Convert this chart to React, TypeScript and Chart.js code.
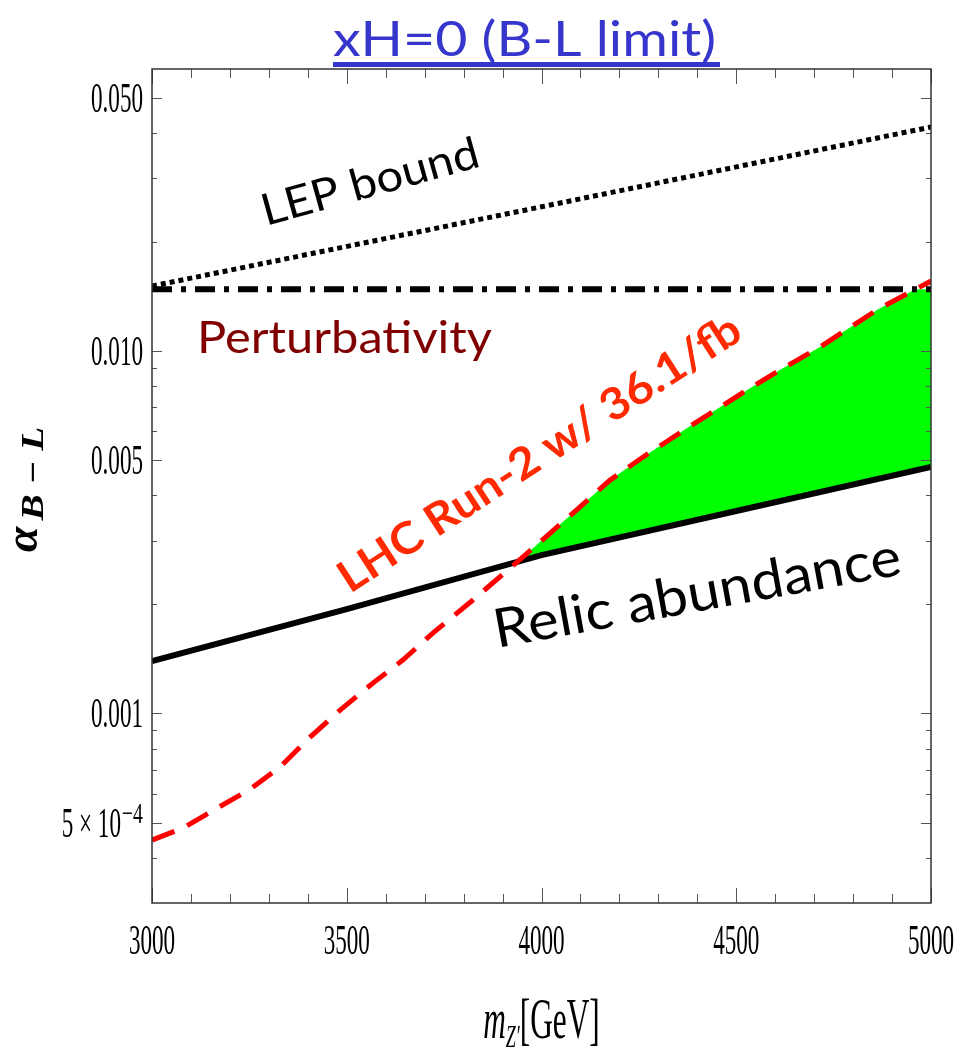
import React, { useEffect, useRef } from 'react';
import { Chart, registerables } from 'chart.js';
Chart.register(...registerables);

// ---- axis ranges ----
const X_MIN = 3000;
const X_MAX = 5000;
const Y_MIN = 3e-4;
const Y_MAX = 0.06;

// ---- tick values / labels ----
const xMajorTicks = [3000, 3500, 4000, 4500, 5000];
const xTickLabels = ['3000', '3500', '4000', '4500', '5000'];
const xMinorTicks = [3100, 3200, 3300, 3400, 3600, 3700, 3800, 3900, 4100, 4200, 4300, 4400, 4600, 4700, 4800, 4900];
const yMajorTicks = [0.0005, 0.001, 0.005, 0.01, 0.05];
const yTickLabels = ['5×10^-4', '0.001', '0.005', '0.010', '0.050'];
const yMinorTicks = [0.0004, 0.0006, 0.0007, 0.0008, 0.0009, 0.002, 0.003, 0.004, 0.006, 0.007, 0.008, 0.009, 0.02, 0.03, 0.04];

// ---- series ----
const relicMass = [3000, 3500, 4000, 4500, 5000];
const relicAlpha = [1.395e-3, 1.941e-3, 2.736e-3, 3.62e-3, 4.786e-3];

const lhcMass = [3000, 3080, 3167, 3252, 3329, 3406, 3483, 3567, 3644, 3721, 3824, 3958, 4081, 4176, 4261, 4374, 4528, 4612, 4715, 4861, 5000];
const lhcAlpha = [4.475e-4, 4.83e-4, 5.48e-4, 6.18e-4, 7.12e-4, 8.61e-4, 1.022e-3, 1.213e-3, 1.404e-3, 1.667e-3, 2.056e-3, 2.736e-3, 3.573e-3, 4.405e-3, 5.1e-3, 6.13e-3, 7.81e-3, 8.86e-3, 1.026e-2, 1.298e-2, 1.56e-2];

const lepMass = [3000, 4000, 5000];
const lepAlpha = [0.01511, 0.0250, 0.0415];

const pertMass = [3000, 5000];
const pertAlpha = [0.0148, 0.0148];

// allowed (green) region: upper edge along LHC bound, lower edge along relic line
const greenUpperMass = [3938, 3958, 4081, 4176, 4261, 4374, 4528, 4612, 4715, 4861, 4960, 5000];
const greenUpperAlpha = [2.62e-3, 2.736e-3, 3.573e-3, 4.405e-3, 5.1e-3, 6.13e-3, 7.81e-3, 8.86e-3, 1.026e-2, 1.298e-2, 1.48e-2, 1.48e-2];
const greenLowerMass = [5000, 4500, 4000, 3938];
const greenLowerAlpha = [4.786e-3, 3.62e-3, 2.736e-3, 2.62e-3];

const zip = (xs: number[], ys: number[]) => xs.map((x, i) => ({ x, y: ys[i] }));

function fitText(ctx: CanvasRenderingContext2D, text: string, font: string, color: string,
  x: number, y: number, angle: number, width: number) {
  ctx.save();
  ctx.font = font;
  ctx.fillStyle = color;
  ctx.textAlign = 'left';
  ctx.textBaseline = 'alphabetic';
  const w = ctx.measureText(text).width;
  ctx.translate(x, y);
  ctx.rotate((angle * Math.PI) / 180);
  ctx.scale(width / w, 1);
  ctx.fillText(text, 0, 0);
  ctx.restore();
}

const SERIF = '"Liberation Serif", "Times New Roman", serif';
const SANS = 'Lato, "Open Sans", sans-serif';
const TICK_FONT = 42;
const TICK_SX = 0.55;

const decor = {
  id: 'decor',
  afterDatasetsDraw(chart: any) {
    const ctx: CanvasRenderingContext2D = chart.ctx;
    const a = chart.chartArea;
    const xs = chart.scales.x;
    const ys = chart.scales.y;
    ctx.save();
    ctx.strokeStyle = '#555';
    ctx.lineWidth = 1;
    const seg = (x1: number, y1: number, x2: number, y2: number) => {
      ctx.beginPath(); ctx.moveTo(x1, y1); ctx.lineTo(x2, y2); ctx.stroke();
    };
    for (const v of xMajorTicks) {
      const p = Math.round(xs.getPixelForValue(v)) + 0.5;
      seg(p, a.bottom, p, a.bottom - 15); seg(p, a.top, p, a.top + 15);
    }
    for (const v of xMinorTicks) {
      const p = Math.round(xs.getPixelForValue(v)) + 0.5;
      seg(p, a.bottom, p, a.bottom - 9); seg(p, a.top, p, a.top + 9);
    }
    for (const v of yMajorTicks) {
      const p = Math.round(ys.getPixelForValue(v)) + 0.5;
      seg(a.left, p, a.left + 10, p); seg(a.right, p, a.right - 10, p);
    }
    for (const v of yMinorTicks) {
      const p = Math.round(ys.getPixelForValue(v)) + 0.5;
      seg(a.left, p, a.left + 5, p); seg(a.right, p, a.right - 5, p);
    }
    // frame
    ctx.strokeStyle = '#333';
    ctx.lineWidth = 1.5;
    ctx.strokeRect(a.left, a.top, a.right - a.left, a.bottom - a.top);

    // tick labels
    ctx.fillStyle = '#000';
    xMajorTicks.forEach((v, i) => {
      const p = xs.getPixelForValue(v);
      ctx.save();
      ctx.font = `${TICK_FONT}px ${SERIF}`;
      ctx.textAlign = 'center';
      ctx.textBaseline = 'alphabetic';
      ctx.translate(p, 954);
      ctx.scale(TICK_SX, 1);
      ctx.fillText(xTickLabels[i], 0, 0);
      ctx.restore();
    });
    const rightX = a.left - 9;
    yMajorTicks.forEach((v, i) => {
      const p = ys.getPixelForValue(v);
      const lab = yTickLabels[i];
      ctx.save();
      ctx.textBaseline = 'alphabetic';
      const base = p + 14;
      if (lab.includes('^')) {
        const [mant, ex] = lab.split('^');
        ctx.font = `30px ${SERIF}`;
        const sup = ex.replace('-', '−');
        const ws = ctx.measureText(sup).width * 0.66;
        ctx.save();
        ctx.translate(rightX - ws, base - 14);
        ctx.scale(0.66, 1);
        ctx.textAlign = 'left';
        ctx.fillText(sup, 0, 0);
        ctx.restore();
        ctx.font = `${TICK_FONT}px ${SERIF}`;
        ctx.save();
        ctx.translate(rightX - ws - 1, base);
        ctx.scale(TICK_SX, 1);
        ctx.textAlign = 'right';
        ctx.fillText(mant.replace('×', ' × '), 0, 0);
        ctx.restore();
      } else {
        ctx.font = `${TICK_FONT}px ${SERIF}`;
        ctx.translate(rightX, base);
        ctx.scale(TICK_SX, 1);
        ctx.textAlign = 'right';
        ctx.fillText(lab, 0, 0);
      }
      ctx.restore();
    });

    // x axis title: m_{Z'}[GeV]
    {
      ctx.save();
      const cx = (a.left + a.right) / 2;
      const sx = 0.56;
      ctx.textBaseline = 'alphabetic';
      ctx.textAlign = 'left';
      ctx.font = `italic 56px ${SERIF}`;
      const wm = ctx.measureText('m').width;
      ctx.font = `italic 32px ${SERIF}`;
      const wz = ctx.measureText('Z′').width;
      ctx.font = `56px ${SERIF}`;
      const wg = ctx.measureText('[GeV]').width;
      const total = wm + wz + wg;
      ctx.translate(cx, 1038);
      ctx.scale(sx, 1);
      let x0 = -total / 2;
      ctx.font = `italic 56px ${SERIF}`;
      ctx.fillText('m', x0, 0); x0 += wm;
      ctx.font = `italic 32px ${SERIF}`;
      ctx.fillText('Z′', x0, 9); x0 += wz;
      ctx.font = `56px ${SERIF}`;
      ctx.fillText('[GeV]', x0, 0);
      ctx.restore();
    }
    // y axis title: alpha_{B-L}, reading upward
    {
      ctx.save();
      ctx.translate(37, 552);
      ctx.rotate(-Math.PI / 2);
      ctx.textBaseline = 'alphabetic';
      ctx.textAlign = 'left';
      ctx.font = `bold italic 46px ${SERIF}`;
      const wa = ctx.measureText('α').width;
      ctx.fillText('α', 0, 0);
      ctx.font = `bold italic 31px ${SERIF}`;
      const sub = 'B − L';
      const wb = ctx.measureText(sub).width;
      ctx.translate(wa + 6, 6);
      ctx.scale(94 / wb, 1);
      ctx.fillText(sub, 0, 0);
      ctx.restore();
    }

    // annotations
    fitText(ctx, 'xH=0 (B-L limit)', `48px ${SANS}`, '#3636cc', 333, 56, 0, 383);
    ctx.fillStyle = '#3636cc';
    ctx.fillRect(333, 62, 387, 5);
    fitText(ctx, 'LEP bound', `44px ${SANS}`, '#000', 266, 226, -15.5, 224);
    fitText(ctx, 'Perturbativity', `44px ${SANS}`, '#800000', 197, 353, 0, 295);
    fitText(ctx, 'LHC Run-2 w/ 36.1/fb', `bold 44px ${SANS}`, '#ff2a00', 350, 594, -33, 471);
    fitText(ctx, 'Relic abundance', `54px ${SANS}`, '#000', 497, 648, -10.3, 413);
    ctx.restore();
  },
};

export default function App() {
  const ref = useRef<HTMLCanvasElement>(null);
  useEffect(() => {
    if (!ref.current) return;
    const chart = new Chart(ref.current, {
      type: 'line',
      data: {
        datasets: [
          {
            label: 'LEP bound',
            data: zip(lepMass, lepAlpha),
            borderColor: '#000',
            borderWidth: 5,
            borderDash: [5, 4],
            pointRadius: 0,
            fill: false,
          },
          {
            label: 'Perturbativity',
            data: zip(pertMass, pertAlpha),
            borderColor: '#000',
            borderWidth: 6,
            borderDash: [20, 9, 5, 9],
            pointRadius: 0,
            fill: false,
          },
          {
            label: 'LHC Run-2 w/ 36.1/fb',
            data: zip(lhcMass, lhcAlpha),
            borderColor: '#ff0000',
            borderWidth: 5,
            borderDash: [24, 14],
            pointRadius: 0,
            fill: false,
          },
          {
            label: 'Relic abundance',
            data: zip(relicMass, relicAlpha),
            borderColor: '#000',
            borderWidth: 6,
            pointRadius: 0,
            fill: false,
          },
          {
            label: 'Allowed region',
            data: [...zip(greenUpperMass, greenUpperAlpha), ...zip(greenLowerMass, greenLowerAlpha)],
            borderColor: 'rgba(0,0,0,0)',
            borderWidth: 0,
            backgroundColor: '#00ff00',
            pointRadius: 0,
            fill: 'shape',
          },
        ],
      },
      options: {
        animation: false,
        responsive: false,
        devicePixelRatio: 1,
        layout: { padding: { left: 152, right: 26, top: 69, bottom: 147 } },
        plugins: { legend: { display: false }, tooltip: { enabled: false }, title: { display: false } },
        scales: {
          x: { type: 'linear', min: X_MIN, max: X_MAX, display: false },
          y: { type: 'logarithmic', min: Y_MIN, max: Y_MAX, display: false },
        },
        elements: { line: { tension: 0 } },
      },
      plugins: [decor],
    } as any);
    return () => chart.destroy();
  }, []);
  return (
    <div style={{ position: 'fixed', left: 0, top: 0, width: 957, height: 1050, background: '#fff' }}>
      <canvas ref={ref} width={957} height={1050} style={{ display: 'block' }} />
    </div>
  );
}
